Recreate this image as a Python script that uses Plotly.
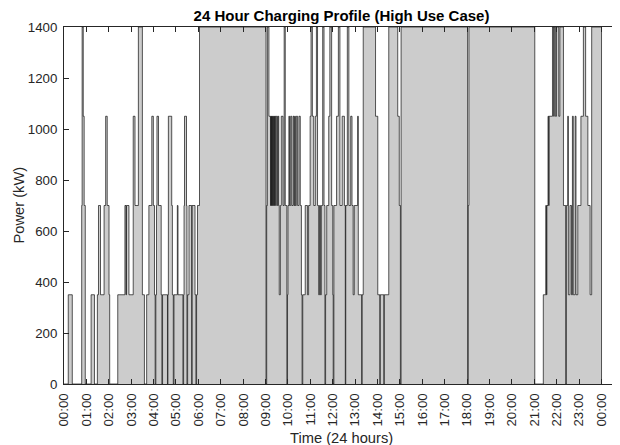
import plotly.graph_objects as go

# Step profile: time of each change (hours after midnight) and the power (kW) from then on
hours = [
    0.00, 0.19, 0.37, 0.79, 0.81, 0.86, 0.90, 0.95,
    1.21, 1.36, 1.49, 1.54, 1.63, 1.79, 1.86, 1.93, 2.01, 2.04,
    2.40, 2.72, 2.77, 2.79, 2.90, 3.09, 3.17, 3.32, 3.50, 3.59,
    3.69, 3.79, 3.92, 3.99, 4.04, 4.07, 4.10, 4.13, 4.15, 4.22, 4.34, 4.37,
    4.40, 4.62, 4.64, 4.66, 4.81, 4.84, 4.88, 4.91, 5.06, 5.09, 5.31, 5.34,
    5.36, 5.38, 5.47, 5.49, 5.52, 5.58, 5.70, 5.72, 5.85, 5.89, 5.92, 5.96, 6.05,
    9.02, 9.05, 9.08, 9.15, 9.22, 9.24, 9.26, 9.28, 9.30, 9.32, 9.35, 9.37,
    9.40, 9.42, 9.45, 9.48, 9.53, 9.56, 9.59, 9.61, 9.66, 9.70, 9.78, 9.83,
    9.88, 9.95, 9.98, 10.00, 10.04, 10.07, 10.12, 10.17, 10.23, 10.27, 10.30,
    10.33, 10.37, 10.43, 10.49, 10.55, 10.60, 10.63, 10.66, 10.77, 10.87, 10.92,
    10.99, 11.03, 11.09, 11.15, 11.22, 11.27, 11.32, 11.37, 11.41, 11.45, 11.49,
    11.55, 11.61, 11.65, 11.68, 11.73, 11.82, 11.87, 11.95, 12.00, 12.02, 12.05,
    12.17, 12.25, 12.32, 12.42, 12.52, 12.56, 12.58, 12.65, 12.72, 12.80, 12.86,
    12.91, 12.96, 13.11, 13.14, 13.29, 13.31, 13.36, 13.91, 14.01, 14.10, 14.12,
    14.28, 14.30, 14.50, 14.90, 14.97, 15.02, 15.05,
    18.02, 18.05, 18.08,
    21.02, 21.40, 21.51, 21.54, 21.56, 21.61, 21.64, 21.66, 21.81, 21.86, 21.89,
    21.94, 21.99, 22.09, 22.14, 22.30, 22.40, 22.43, 22.49, 22.52, 22.59, 22.66,
    22.70, 22.74, 22.82, 22.86, 22.94, 23.08, 23.19, 23.29, 23.39, 23.49, 23.56,
    24.00,
]
power_kw = [
    0, 350, 0, 700, 1400, 1050, 700, 0,
    350, 0, 350, 700, 350, 700, 1050, 700, 350, 0,
    350, 700, 350, 700, 350, 1050, 700, 1400, 350, 0,
    350, 700, 1050, 700, 350, 0, 350, 700, 1050, 700, 350, 0,
    350, 0, 350, 1050, 700, 350, 0, 350, 700, 350, 0, 350,
    700, 1050, 700, 0, 350, 700, 0, 700, 350, 0, 350, 700, 1400,
    0, 700, 1400, 1050, 700, 1050, 700, 1050, 700, 1050, 700, 1050,
    700, 1050, 700, 1050, 700, 1050, 700, 350, 700, 1050, 700, 1400,
    700, 0, 350, 700, 1050, 700, 1050, 700, 1050, 700, 1050,
    700, 1050, 700, 1050, 700, 350, 0, 350, 700, 350, 700,
    1050, 1400, 1050, 700, 1050, 1400, 700, 350, 700, 350, 700,
    1400, 700, 0, 350, 700, 1050, 1400, 700, 350, 0, 700,
    1050, 1400, 700, 1050, 700, 0, 700, 1400, 700, 1050, 700,
    350, 700, 1050, 350, 0, 350, 1400, 1050, 350, 0, 350,
    0, 350, 1400, 1050, 700, 0, 1400,
    0, 700, 1400,
    0, 350, 700, 350, 700, 1050, 700, 1050, 1400, 1050, 1400,
    1050, 1400, 1050, 1400, 700, 0, 700, 1050, 350, 700, 350,
    1050, 350, 1050, 350, 700, 1050, 1400, 1050, 700, 350, 1400,
    0,
]

tick_hours = [0, 1, 2, 3, 4, 5, 6, 7, 8, 9, 10, 11, 12,
              13, 14, 15, 16, 17, 18, 19, 20, 21, 22, 23, 24]
tick_labels = ["00:00", "01:00", "02:00", "03:00", "04:00", "05:00", "06:00",
               "07:00", "08:00", "09:00", "10:00", "11:00", "12:00", "13:00",
               "14:00", "15:00", "16:00", "17:00", "18:00", "19:00", "20:00",
               "21:00", "22:00", "23:00", "00:00"]
y_ticks = [0, 200, 400, 600, 800, 1000, 1200, 1400]

FONT = "Liberation Sans, Arial, Helvetica, sans-serif"
AX = "#262626"

fig = go.Figure(go.Scatter(
    x=hours, y=power_kw, mode="lines", line_shape="hv",
    line=dict(color="black", width=0.65),
    fill="tozeroy", fillcolor="#cccccc",
    hoverinfo="skip",
))

# The page adds an 8 px body margin, so the figure is 8 px smaller than the window.
fig.update_layout(
    width=612, height=437,
    margin=dict(l=56, r=1, t=19, b=61),
    paper_bgcolor="white", plot_bgcolor="white",
    showlegend=False,
    font=dict(family=FONT, color=AX, size=13.3),
    title=dict(text="<b>24 Hour Charging Profile (High Use Case)</b>",
               font=dict(size=15, color="black", family=FONT),
               x=0.5, xref="paper", xanchor="center",
               y=1 - 7.5 / 437, yref="container", yanchor="middle"),
    annotations=[
        dict(text="Time (24 hours)", xref="paper", yref="paper",
             x=0.5, y=0, xanchor="center", yanchor="middle", yshift=-53.5,
             showarrow=False, font=dict(size=14.7, color=AX, family=FONT)),
        dict(text="Power (kW)", xref="paper", yref="paper", textangle=-90,
             x=0, y=0.5, xanchor="center", yanchor="middle", xshift=-46,
             showarrow=False, font=dict(size=14.7, color=AX, family=FONT)),
    ],
)
fig.update_xaxes(
    range=[0, 24.78], tickvals=tick_hours, ticktext=tick_labels,
    tickangle=-90, ticks="inside", ticklen=5, tickcolor=AX,
    showline=True, linecolor=AX, linewidth=1, mirror="ticks",
    showgrid=False, zeroline=False, automargin=False, ticklabelstandoff=3,
    tickfont=dict(size=13.3, color=AX, family=FONT),
)
fig.update_yaxes(
    range=[0, 1400], tickvals=y_ticks,
    ticks="inside", ticklen=5, tickcolor=AX,
    showline=True, linecolor=AX, linewidth=1, mirror="ticks",
    showgrid=False, zeroline=False, automargin=False, ticklabelstandoff=3,
    tickfont=dict(size=13.3, color=AX, family=FONT),
)

fig.write_html("out.html")
